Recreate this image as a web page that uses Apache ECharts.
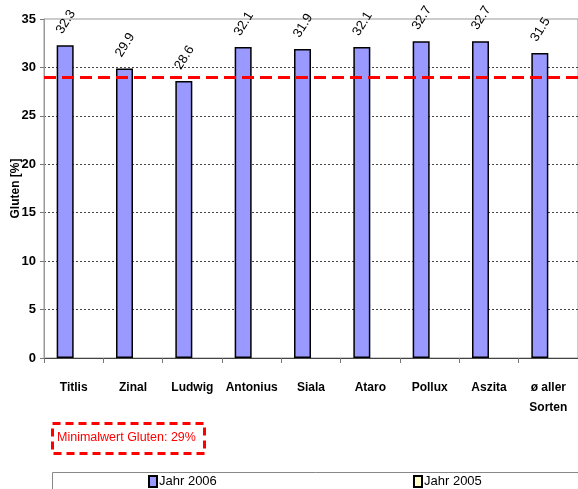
<!DOCTYPE html>
<html>
<head>
<meta charset="utf-8">
<script src="https://cdn.jsdelivr.net/npm/echarts@6/dist/echarts.min.js"></script>
<style>
  html, body { margin: 0; padding: 0; background: #fff; }
  #chart { width: 578px; height: 489px; }
</style>
</head>
<body>
<div id="chart"></div>
<script>
// Sorten und Glutengehalt
const sorten = ['Titlis', 'Zinal', 'Ludwig', 'Antonius', 'Siala', 'Ataro', 'Pollux', 'Aszita', 'ø aller\nSorten']
const jahr2006 = [32.3, 29.9, 28.6, 32.1, 31.9, 32.1, 32.7, 32.7, 31.5]
const jahr2005 = [null, null, null, null, null, null, null, null, null]
const minimalwert = 29
const yTicks = [0, 5, 10, 15, 20, 25, 30, 35]

const arial = 'Arial, "Liberation Sans", sans-serif'

const chart = echarts.init(document.getElementById('chart'))

// Gitterlinien: 0 und 35 ohne gepunktete Linie
const splitColors = yTicks.map(v => (v === 0 || v === 35) ? 'rgba(0,0,0,0)' : '#444')

const option = {
  animation: false,
  grid: {
    left: 44,
    right: 0,
    top: 19,
    bottom: 131,
    outerBoundsMode: 'none',
    containLabel: false,
    show: true,
    borderColor: '#999',
    borderWidth: 1
  },
  legend: [
    {
      left: 148,
      top: 475,
      data: ['Jahr 2006'],
      icon: 'rect',
      itemWidth: 8,
      itemHeight: 11,
      itemGap: 0,
      padding: 0,
      textStyle: { fontFamily: arial, fontSize: 13, color: '#000', padding: [0, 0, 0, -3] }
    },
    {
      left: 413,
      top: 475,
      data: ['Jahr 2005'],
      icon: 'rect',
      itemWidth: 8,
      itemHeight: 11,
      itemGap: 0,
      padding: 0,
      textStyle: { fontFamily: arial, fontSize: 13, color: '#000', padding: [0, 0, 0, -3] }
    }
  ],
  xAxis: {
    type: 'category',
    data: sorten,
    axisLine: { lineStyle: { color: '#444', width: 1 } },
    axisTick: { show: true, length: 5, lineStyle: { color: '#777' } },
    axisLabel: {
      interval: 0,
      color: '#000',
      fontFamily: arial,
      fontWeight: 'bold',
      fontSize: 12,
      margin: 20,
      lineHeight: 20
    }
  },
  yAxis: {
    type: 'value',
    min: 0,
    max: 35,
    interval: 5,
    name: 'Gluten [%]',
    nameLocation: 'middle',
    nameRotate: 90,
    nameGap: 22,
    nameMoveOverlap: false,
    nameTextStyle: { fontFamily: arial, fontWeight: 'bold', fontSize: 12, color: '#000' },
    axisLine: { show: true, lineStyle: { color: '#999' } },
    axisTick: { show: true, length: 4, lineStyle: { color: '#777' } },
    axisLabel: { color: '#000', fontFamily: arial, fontWeight: 'bold', fontSize: 13, margin: 8 },
    splitLine: { show: true, lineStyle: { color: splitColors, type: [2, 2], width: 1 } }
  },
  series: [
    {
      name: 'Jahr 2006',
      type: 'bar',
      data: jahr2006,
      barWidth: 17,
      barGap: '0%',
      itemStyle: { color: '#9999FF', borderColor: '#000', borderWidth: 1.5 },
      label: {
        show: true,
        position: 'top',
        rotate: 58,
        align: 'left',
        verticalAlign: 'bottom',
        distance: 10,
        offset: [-1, 0],
        fontFamily: arial,
        fontSize: 13,
        color: '#000'
      },
      markLine: {
        silent: true,
        symbol: 'none',
        label: { show: false },
        lineStyle: { color: '#FF0000', type: [12, 6], width: 3 },
        data: [{ yAxis: minimalwert }]
      }
    },
    {
      name: 'Jahr 2005',
      type: 'bar',
      data: jahr2005,
      barWidth: 17,
      barGap: '0%',
      itemStyle: { color: '#FFFFCC', borderColor: '#000', borderWidth: 1.5 }
    }
  ],
  graphic: [
    {
      type: 'rect',
      left: 50,
      top: 421,
      shape: { width: 152, height: 30 },
      style: { fill: 'none', stroke: '#FF0000', lineWidth: 3, lineDash: [8, 5] }
    },
    {
      type: 'text',
      left: 57,
      top: 431,
      style: { text: 'Minimalwert Gluten: 29%', fill: '#FF0000', font: '12.5px ' + arial }
    },
    {
      type: 'rect',
      left: 50,
      top: 470,
      shape: { width: 540, height: 40 },
      style: { fill: 'none', stroke: '#888', lineWidth: 1 }
    }
  ]
}

chart.setOption(option)
</script>
</body>
</html>
